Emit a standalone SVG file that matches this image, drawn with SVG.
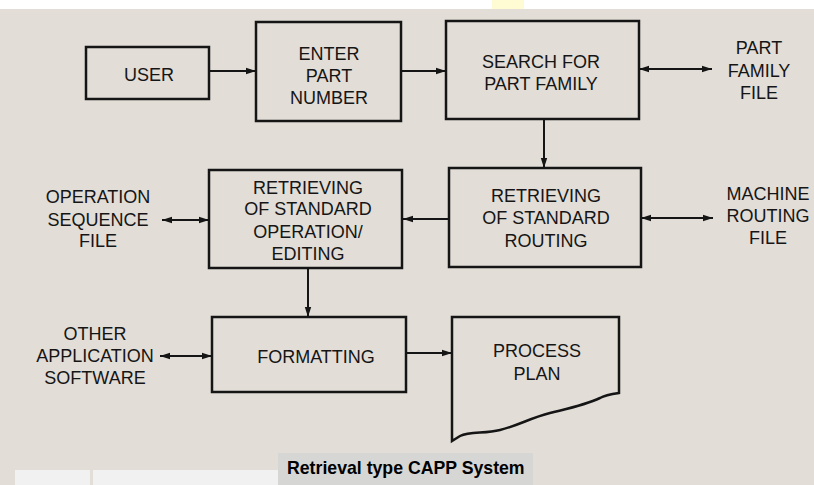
<svg xmlns="http://www.w3.org/2000/svg" width="814" height="485" viewBox="0 0 814 485">
<style>
.box{fill:none;stroke:#151515;stroke-width:2.5}
.ln{fill:none;stroke:#151515;stroke-width:2}
text{font-family:"Liberation Sans",Arial,sans-serif;font-size:18px;fill:#151515;text-anchor:middle}
.cap{font-weight:bold;font-size:17.7px;text-anchor:start;fill:#000}
</style>
<defs>
<marker id="ah" viewBox="0 0 10 8" refX="10" refY="4" markerWidth="10" markerHeight="8" markerUnits="userSpaceOnUse" orient="auto-start-reverse">
<path d="M0,0.8 L10,4 L0,7.2 Z" fill="#151515"/>
</marker>
</defs>
<rect x="0" y="0" width="814" height="485" fill="#ffffff"/>
<rect x="0" y="9" width="814" height="476" fill="#e2ddd6"/>
<rect x="492" y="0" width="32" height="9" fill="#fffbd2"/>
<rect x="15" y="470" width="75" height="15" fill="#f1f1f1"/>
<rect x="93" y="470" width="185" height="15" fill="#f1f1f1"/>
<rect x="278" y="453" width="255" height="32" fill="#d6d6d4"/>

<g id="connectors">
<line class="ln" x1="209" y1="71" x2="256" y2="71" marker-end="url(#ah)"/>
<line class="ln" x1="401" y1="71" x2="446" y2="71" marker-end="url(#ah)"/>
<line class="ln" x1="639" y1="69" x2="712" y2="69" marker-start="url(#ah)" marker-end="url(#ah)"/>
<line class="ln" x1="544" y1="119" x2="544" y2="168" marker-end="url(#ah)"/>
<line class="ln" x1="449" y1="219" x2="403" y2="219" marker-end="url(#ah)"/>
<line class="ln" x1="641" y1="218" x2="713" y2="218" marker-start="url(#ah)" marker-end="url(#ah)"/>
<line class="ln" x1="209" y1="220" x2="162" y2="220" marker-start="url(#ah)" marker-end="url(#ah)"/>
<line class="ln" x1="308" y1="268" x2="308" y2="317" marker-end="url(#ah)"/>
<line class="ln" x1="212" y1="356" x2="160" y2="356" marker-start="url(#ah)" marker-end="url(#ah)"/>
<line class="ln" x1="406" y1="353" x2="452" y2="353" marker-end="url(#ah)"/>
</g>

<g id="user">
<rect class="box" x="86" y="47" width="123" height="52"/>
<text x="149" y="80.5">USER</text>
</g>
<g id="enter-part-number">
<rect class="box" x="256" y="22" width="145" height="99"/>
<text x="329" y="60">ENTER</text>
<text x="329" y="82">PART</text>
<text x="329" y="104">NUMBER</text>
</g>
<g id="search-part-family">
<rect class="box" x="446" y="21" width="193" height="98"/>
<text x="541" y="68">SEARCH FOR</text>
<text x="541" y="90">PART FAMILY</text>
</g>
<g id="part-family-file">
<text x="759" y="53.5">PART</text>
<text x="759" y="76.5">FAMILY</text>
<text x="759" y="98.5">FILE</text>
</g>
<g id="retrieving-routing">
<rect class="box" x="449" y="168" width="192" height="99"/>
<text x="546" y="201.5">RETRIEVING</text>
<text x="546" y="223.5">OF STANDARD</text>
<text x="546" y="246.5">ROUTING</text>
</g>
<g id="machine-routing-file">
<text x="768" y="200">MACHINE</text>
<text x="768" y="221.5">ROUTING</text>
<text x="768" y="244">FILE</text>
</g>
<g id="retrieving-operation">
<rect class="box" x="209" y="170" width="193" height="98"/>
<text x="308" y="193.5">RETRIEVING</text>
<text x="308" y="215">OF STANDARD</text>
<text x="308" y="238">OPERATION/</text>
<text x="308" y="260">EDITING</text>
</g>
<g id="operation-sequence-file">
<text x="98" y="202.5">OPERATION</text>
<text x="98" y="225.5">SEQUENCE</text>
<text x="98" y="246.5">FILE</text>
</g>
<g id="formatting">
<rect class="box" x="212" y="317" width="194" height="75"/>
<text x="316" y="362.5">FORMATTING</text>
</g>
<g id="other-application-software">
<text x="95" y="339.5">OTHER</text>
<text x="95" y="362">APPLICATION</text>
<text x="95" y="383.5">SOFTWARE</text>
</g>
<g id="process-plan">
<path class="box" d="M452,317 H619 V393 C612,394 605,395 600,398 C585,405 570,408 550,413 C530,418 520,425 500,430 C485,434 470,431 460,436 L452,441 Z"/>
<text x="537" y="356.5">PROCESS</text>
<text x="537" y="379.5">PLAN</text>
</g>
<text class="cap" x="287" y="473.5">Retrieval type CAPP System</text>
</svg>
